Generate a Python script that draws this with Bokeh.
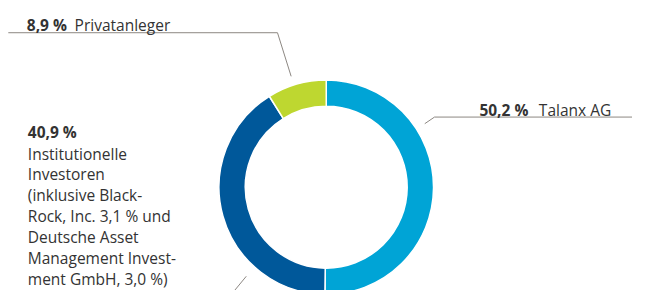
import math
from bokeh.plotting import figure
from bokeh.models import Range1d, ColumnDataSource
from bokeh.core.properties import value
from bokeh.embed import file_html
from bokeh.resources import INLINE

# --- data ---
groups = ["Talanx AG", "Institutionelle Investoren", "Privatanleger"]
shares = [50.2, 40.9, 8.9]
colors = ["#00A4D6", "#00589A", "#BED730"]
inst_detail = ["Institutionelle", "Investoren", "(inklusive Black-", "Rock, Inc. 3,1 % und",
               "Deutsche Asset", "Management Invest-", "ment GmbH, 3,0 %)"]

def pct(v):
    return ("%.1f" % v).replace(".", ",") + " %"

W, H = 632, 290
p = figure(width=W, height=H, output_backend="svg", toolbar_location=None,
           x_range=Range1d(0, 648), y_range=Range1d(-306, 0),
           min_border=0)
p.axis.visible = False
p.grid.visible = False
p.outline_line_color = None
p.background_fill_color = "white"
p.border_fill_color = "white"

# donut
cx, cy = 334, -197
total = sum(shares)
starts, ends = [], []
cum = 0.0
for s in shares:
    starts.append(math.pi / 2 - cum / total * 2 * math.pi)
    cum += s
    ends.append(math.pi / 2 - cum / total * 2 * math.pi)
src = ColumnDataSource(dict(start=starts, end=ends, color=colors))
p.annular_wedge(x=cx, y=cy, inner_radius=83, outer_radius=110,
                start_angle="start", end_angle="end", direction="clock",
                fill_color="color", line_color="white", line_width=1.5, source=src)

# leader lines
lc = "#8C8782"
p.line([8, 284, 298], [-34, -34, -80], line_color=lc, line_width=1)
p.line([435, 445, 648], [-130, -123, -123], line_color=lc, line_width=1)
p.line([240, 252], [-306, -291], line_color=lc, line_width=1)

font = value("Open Sans")
tc = "#333333"
fs = "15.5px"

def txt(x, y, t, bold=False):
    p.text(x=[x], y=[-y], text=[t], text_font=font, text_font_size=fs,
           text_font_style="bold" if bold else "normal", text_color=tc,
           text_baseline="alphabetic", text_align="left")

# Privatanleger
txt(27, 26, pct(shares[2]), True)
txt(76, 26, groups[2])
# Talanx
txt(491, 116, pct(shares[0]), True)
txt(552, 116, groups[0])
# Institutional
txt(28, 139, pct(shares[1]), True)
for i, line in enumerate(inst_detail):
    txt(28, 161.5 + i * 22.0, line)

open("out.html", "w").write(file_html(p, INLINE))
